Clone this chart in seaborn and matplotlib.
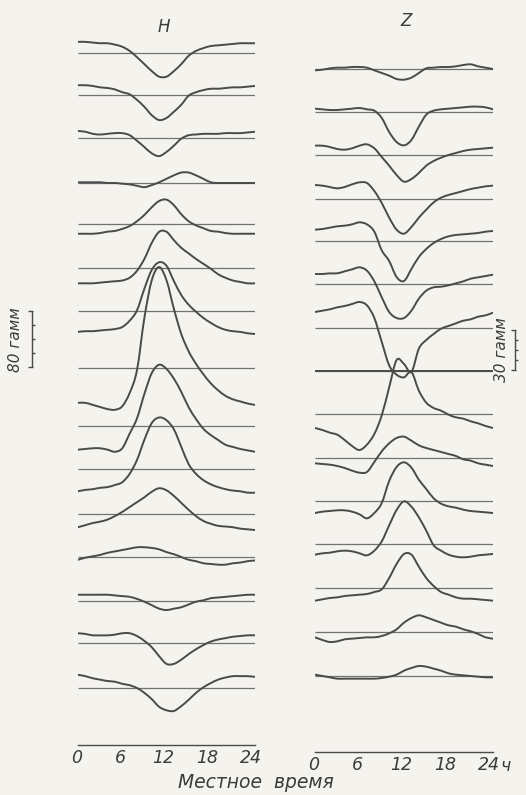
import numpy as np
import pandas as pd
import matplotlib
matplotlib.use("Agg")
import matplotlib.pyplot as plt
from matplotlib.path import Path
from matplotlib.patches import PathPatch
from matplotlib.transforms import ScaledTranslation
import seaborn as sns

# ---------------- data (gamma), local time 0..24 h ----------------
HOURS = list(range(25))

# H component, stations from top to bottom
H01 = [16, 16, 15, 14, 14, 12, 9, 3, -6, -16, -26, -34, -34, -26, -16, -4, 3, 7, 10, 11, 12, 13, 14, 14, 14]
H02 = [14, 14, 13, 11, 10, 8, 4, 1, -7, -17, -29, -36, -33, -24, -14, -1, 4, 7, 9, 9, 10, 11, 11, 12, 13]
H03 = [10, 9, 6, 5, 6, 7, 7, 4, -4, -13, -22, -26, -20, -11, -1, 4, 5, 6, 6, 6, 7, 7, 7, 8, 9]
H04 = [1, 1, 1, 1, 0, 0, -1, -2, -4, -6, -3, 1, 6, 11, 15, 15, 11, 6, 1, 0, 0, 0, 0, 0, 0]
H05 = [-14, -14, -14, -13, -11, -10, -7, -3, 4, 13, 24, 33, 35, 27, 14, 4, -2, -6, -10, -11, -13, -14, -14, -14, -14]
H06 = [-22, -22, -22, -21, -20, -19, -18, -14, -4, 13, 36, 52, 52, 40, 29, 21, 13, 6, -1, -9, -14, -18, -20, -22, -22]
H07 = [-30, -29, -29, -28, -27, -26, -23, -14, 1, 32, 59, 70, 65, 43, 23, 9, -1, -10, -17, -23, -27, -29, -30, -32, -33]
H08 = [-50, -50, -53, -56, -59, -60, -55, -36, -3, 72, 126, 145, 126, 85, 49, 24, 6, -9, -22, -32, -40, -45, -48, -51, -53]
H09 = [-34, -33, -32, -32, -34, -37, -32, -11, 11, 46, 76, 88, 82, 68, 49, 27, 10, -4, -13, -20, -27, -30, -33, -35, -37]
H10 = [-32, -30, -29, -27, -26, -23, -19, -7, 13, 42, 66, 74, 70, 57, 32, 7, -7, -16, -22, -26, -29, -31, -32, -34, -34]
H11 = [-19, -16, -13, -11, -8, -3, 3, 10, 17, 24, 32, 37, 34, 26, 16, 6, -3, -10, -14, -17, -18, -19, -21, -22, -23]
H12 = [-4, -1, 1, 3, 6, 8, 10, 12, 14, 14, 13, 11, 7, 4, 0, -4, -6, -9, -10, -11, -11, -9, -8, -6, -5]
H13 = [9, 9, 9, 9, 9, 8, 7, 6, 3, -1, -6, -11, -13, -11, -9, -5, -1, 1, 4, 5, 6, 7, 8, 9, 9]
H14 = [14, 13, 11, 11, 11, 12, 14, 14, 10, 3, -6, -19, -30, -30, -24, -16, -9, -3, 2, 5, 7, 9, 10, 11, 11]
H15 = [19, 17, 14, 12, 10, 9, 6, 4, 0, -7, -16, -27, -32, -33, -26, -17, -7, 1, 7, 12, 15, 17, 17, 17, 16]

# Z component, stations from top to bottom
Z01 = [-1, -0.5, 0.5, 1, 1, 1.5, 1.5, 1, -1, -3, -5, -7.5, -8, -6.5, -3, 0.5, 1, 1.5, 1.5, 2, 3, 3.5, 2, 1, 0]
Z02 = [2.5, 2, 1.5, 1.5, 2, 2.5, 3, 2, 1, -4.5, -15, -22.5, -25, -21, -11, -2, 1, 2, 2.5, 3, 3.5, 4, 4, 3.5, 2]
Z03 = [7, 7, 6, 4.5, 4, 5, 7, 8, 5, -1.5, -8, -15, -20, -18, -13.5, -8, -4.5, -2, 0, 1.5, 3, 4, 4.5, 5, 5.5]
Z04 = [10.5, 10, 9, 8, 9, 11, 12.5, 12, 6, -3, -14, -23, -26, -21, -14, -8, -2.5, 1, 3, 4.5, 6, 7.5, 8.5, 9.5, 10]
Z05 = [8.5, 9, 10, 11, 11.5, 12.5, 14, 12.5, 7, -7, -15, -27, -30, -21, -12, -6, -1.5, 1.5, 3.5, 4.5, 5, 5.5, 6, 7, 7.5]
Z06 = [7.5, 7.5, 8, 8, 9.5, 11, 12.5, 10, 2, -10, -21, -25.5, -25.5, -20, -11, -5, -2.5, -2, -1, 0.5, 2, 4, 5, 6, 7]
Z07 = [12, 13, 14, 15.5, 16.5, 18, 19.5, 17, 7.5, -10.5, -28, -35, -37, -33, -47, -56, -60, -62, -65, -67, -68, -70, -71.5, -73.5, -75]
Z08 = [0, 0, 0, 0, 0, 0, 0, 0, 0, 0, 0, 0, 0, 0, 0, 0, 0, 0, 0, 0, 0, 0, 0, 0, 0]
Z09 = [-10.5, -12, -14, -15.5, -19.5, -24, -27, -23, -15, -1, 20, 40.5, 37.5, 31.5, 49, 55.5, 60, 64, 66, 68, 70, 71, 73, 74, 76]
Z10 = [-4, -4.5, -5, -6, -7.5, -9.5, -11, -10.5, -3, 5, 11, 15, 16, 13, 9.5, 7.5, 6, 4.5, 3, 1.5, -1, -2, -4, -5, -6]
Z11 = [-9, -8, -7.5, -7, -7, -8, -10, -13, -9, -1.5, 15, 25.5, 29, 25, 16, 9, 2, -2, -4, -5, -6.5, -7.5, -8, -8.5, -9]
Z12 = [-8, -7, -6.5, -5.5, -5, -5.5, -7, -8.5, -5, 2, 14, 25.5, 32, 28, 20, 10, -1, -5, -8, -9.5, -10, -9.5, -8.5, -8, -7.5]
Z13 = [-9.5, -8.5, -7.5, -7, -6, -5.5, -5, -4.5, -3, -1, 7.5, 18, 25.5, 25, 16, 7.5, 1.5, -3, -5, -7, -8, -8, -8.5, -9, -9.5]
Z14 = [-4, -6, -7.5, -7, -5.5, -5, -4.5, -4, -4, -3, -1, 2, 7, 10.5, 12.5, 11, 9, 7, 5, 4, 2, 0.5, -1.5, -4, -5]
Z15 = [1, 0, -1, -2, -2, -2, -2, -2, -2, -1.5, -0.5, 1, 4, 6, 7.5, 7, 5.5, 4, 2, 1, 0.5, 0, -0.5, -1, -1]

H_SCALE_GAMMA = 80
Z_SCALE_GAMMA = 30
TICK_HOURS = list(range(0, 25, 2))
LABEL_HOURS = [0, 6, 12, 18, 24]

H_CURVES = [H01, H02, H03, H04, H05, H06, H07, H08, H09, H10, H11, H12, H13, H14, H15]
Z_CURVES = [Z01, Z02, Z03, Z04, Z05, Z06, Z07, Z08, Z09, Z10, Z11, Z12, Z13, Z14, Z15]

# ---------------- layout (pixels) ----------------
W, H = 526, 795
DPI = 100
H_X0, H_X1 = 78, 255
Z_X0, Z_X1 = 315, 493
H_PX_PER_G = 55.7 / 80.0
Z_PX_PER_G = 40.0 / 30.0
H_ROWS_PX = [53, 95, 138, 183, 224, 268, 311, 368, 426, 469, 514, 557, 601, 643, 688]
Z_ROWS_PX = [69, 112, 155, 199, 241, 284, 328, 371, 414, 458, 501, 544, 588, 632, 676]

BG = "#f4f3ee"
INK = "#4a4a4a"
BASE = "#727272"
TXT = "#3c3c3c"

sns.set_theme(style="white")
plt.rcParams["font.family"] = ["DejaVu Sans"]
plt.rcParams["figure.facecolor"] = BG

fig = plt.figure(figsize=(W / DPI, H / DPI), dpi=DPI)
fig.patch.set_facecolor(BG)


def smooth_lines(ax):
    """Render each seaborn line as a smooth Bezier path through its own data points."""
    for ln in list(ax.lines):
        xy = np.column_stack(ln.get_data()).astype(float)
        if len(xy) < 3:
            continue
        p = np.vstack([xy[0], xy, xy[-1]])
        verts = [tuple(xy[0])]
        codes = [Path.MOVETO]
        for i in range(1, len(p) - 2):
            p0, p1, p2, p3 = p[i - 1], p[i], p[i + 1], p[i + 2]
            c1 = p1 + (p2 - p0) / 6.0
            c2 = p2 - (p3 - p1) / 6.0
            verts += [tuple(c1), tuple(c2), tuple(p2)]
            codes += [Path.CURVE4] * 3
        patch = PathPatch(Path(verts, codes), fill=False, edgecolor=ln.get_color(),
                          lw=ln.get_linewidth(), zorder=ln.get_zorder(),
                          capstyle="round", joinstyle="round")
        ax.add_patch(patch)
        ln.set_visible(False)


def panel(x0, x1, px_per_g, rows_px, curves):
    ax = fig.add_axes([x0 / W, 0, (x1 - x0) / W, 1])
    offsets = [(H - p) / px_per_g for p in rows_px]
    ax.hlines(offsets, 0, 24, color=BASE, lw=0.9, zorder=1)
    frames = []
    for i, (vals, off) in enumerate(zip(curves, offsets)):
        frames.append(pd.DataFrame({"hour": HOURS,
                                    "y": np.asarray(vals, float) + off,
                                    "station": i}))
    df = pd.concat(frames, ignore_index=True)
    sns.lineplot(data=df, x="hour", y="y", units="station", estimator=None,
                 color=INK, lw=1.4, ax=ax, legend=False, zorder=2)
    smooth_lines(ax)
    ax.set_xlim(0, 24)
    ax.set_ylim(0, H / px_per_g)
    ax.set_facecolor("none")
    ax.axis("off")
    return ax


axH = panel(H_X0, H_X1, H_PX_PER_G, H_ROWS_PX, H_CURVES)
axZ = panel(Z_X0, Z_X1, Z_PX_PER_G, Z_ROWS_PX, Z_CURVES)

ital = dict(style="italic", color=TXT)

# panel titles
fig.text(164 / W, 1 - 27 / H, "H", fontsize=12, ha="center", va="center", **ital)
fig.text(406 / W, 1 - 21 / H, "Z", fontsize=12, ha="center", va="center", **ital)


def scale_bar(ax, x_px, x0, x1, y_bottom_px, px_per_g, gamma, text, text_x_px):
    hpp = 24.0 / (x1 - x0)
    xb = (x_px - x0) * hpp
    yb = (H - y_bottom_px) / px_per_g
    kw = dict(color=INK, lw=1.0, clip_on=False, solid_capstyle="butt")
    ax.plot([xb, xb], [yb, yb + gamma], **kw)
    for yy in (yb, yb + gamma):
        ax.plot([xb - 4 * hpp, xb + 1 * hpp], [yy, yy], **kw)
    for k in range(1, 4):
        yy = yb + gamma * k / 4
        ax.plot([xb, xb + 3 * hpp], [yy, yy], **kw)
    ax.text((text_x_px - x0) * hpp, yb + gamma / 2, text, rotation=90,
            ha="center", va="center", fontsize=11, clip_on=False, **ital)


scale_bar(axH, 32, H_X0, H_X1, 367, H_PX_PER_G, H_SCALE_GAMMA, "80 гамм", 15)
scale_bar(axZ, 515, Z_X0, Z_X1, 370, Z_PX_PER_G, Z_SCALE_GAMMA, "30 гамм", 502)


def time_axis(x0, x1, y_px):
    ax = fig.add_axes([x0 / W, 1 - y_px / H, (x1 - x0) / W, 0.0001])
    ax.set_facecolor("none")
    ax.set_xlim(-0.2, 24.2)
    ax.set_yticks([])
    for s in ("top", "left", "right"):
        ax.spines[s].set_visible(False)
    ax.spines["bottom"].set_color(INK)
    ax.spines["bottom"].set_linewidth(1.0)
    ax.set_xticks(TICK_HOURS)
    ax.set_xticklabels([str(t) if t in LABEL_HOURS else "" for t in TICK_HOURS],
                       fontsize=12.5, style="italic", color=TXT)
    ax.tick_params(axis="x", direction="in", length=4, width=1.0, color=INK, pad=3)
    shift = ScaledTranslation(-3 / DPI, 0, fig.dpi_scale_trans)
    for lab in ax.get_xticklabels():
        lab.set_transform(lab.get_transform() + shift)
    return ax


time_axis(H_X0, H_X1, 745)
time_axis(Z_X0, Z_X1, 752)
fig.text(505 / W, 1 - 766 / H, "ч", fontsize=12.5, ha="center", va="center", **ital)
fig.text(256 / W, 1 - 783 / H, "Местное  время", fontsize=13.5, ha="center", va="center", **ital)

fig.savefig("out.png", dpi=DPI, facecolor=BG)
